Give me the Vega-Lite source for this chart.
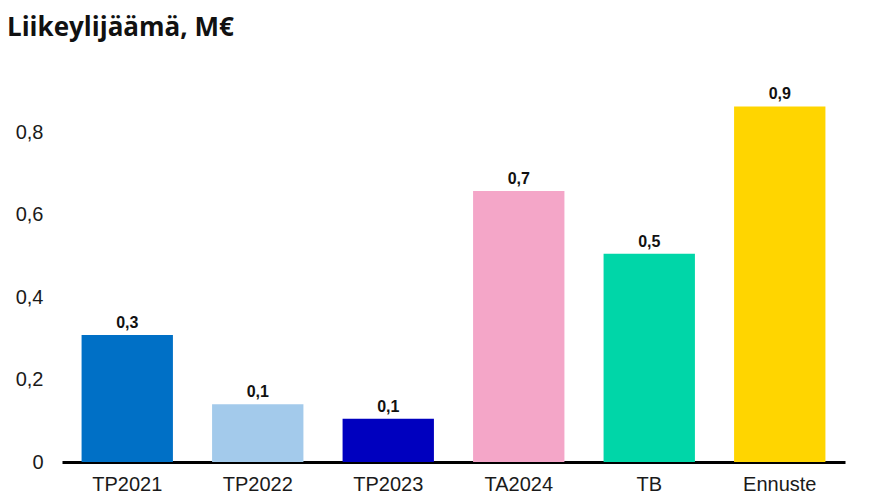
{
  "$schema": "https://vega.github.io/schema/vega-lite/v6.json",
  "autosize": {"type": "none"},
  "width": 783,
  "height": 412.5,
  "padding": {"left": 62, "top": 49.5, "right": 32, "bottom": 40},
  "background": "white",
  "config": {
    "view": {"stroke": null},
    "locale": {"number": {"decimal": ",", "thousands": " ", "grouping": [3], "currency": ["", " €"]}}
  },
  "title": {
    "text": "Liikeylijäämä, M€",
    "anchor": "start",
    "frame": "group",
    "dx": -55,
    "dy": 26,
    "offset": 14,
    "baseline": "alphabetic",
    "font": "Open Sans",
    "fontSize": 26,
    "fontWeight": "bold",
    "color": "#111111"
  },
  "data": {
    "values": [
      {"kausi": "TP2021", "arvo": 0.308},
      {"kausi": "TP2022", "arvo": 0.140},
      {"kausi": "TP2023", "arvo": 0.105},
      {"kausi": "TA2024", "arvo": 0.657},
      {"kausi": "TB", "arvo": 0.505},
      {"kausi": "Ennuste", "arvo": 0.862}
    ]
  },
  "encoding": {
    "x": {
      "field": "kausi",
      "type": "nominal",
      "sort": null,
      "scale": {"paddingInner": 0.3, "paddingOuter": 0.15},
      "axis": {
        "title": null,
        "labelAngle": 0,
        "labelFont": "Liberation Sans",
        "labelFontSize": 20,
        "labelColor": "#1a1a1a",
        "ticks": false,
        "tickSize": 0,
        "labelPadding": 12,
        "domainColor": "#000000",
        "domainWidth": 3,
        "grid": false
      }
    },
    "y": {
      "field": "arvo",
      "type": "quantitative",
      "scale": {"domain": [0, 1], "nice": false},
      "axis": {
        "title": null,
        "values": [0, 0.2, 0.4, 0.6, 0.8],
        "format": ".1~f",
        "labelFont": "Liberation Sans",
        "labelFontSize": 20,
        "labelColor": "#1a1a1a",
        "ticks": false,
        "tickSize": 0,
        "labelPadding": 19,
        "domain": false,
        "grid": false
      }
    }
  },
  "layer": [
    {
      "mark": {"type": "bar"},
      "encoding": {
        "color": {
          "field": "kausi",
          "type": "nominal",
          "scale": {
            "domain": ["TP2021", "TP2022", "TP2023", "TA2024", "TB", "Ennuste"],
            "range": ["#0070C6", "#A3CAEB", "#0000BF", "#F4A6C8", "#00D6A8", "#FFD500"]
          },
          "legend": null
        }
      }
    },
    {
      "mark": {
        "type": "text",
        "baseline": "alphabetic",
        "dy": -7,
        "font": "Liberation Sans",
        "fontSize": 16,
        "fontWeight": "bold",
        "color": "#111111"
      },
      "encoding": {
        "text": {"field": "arvo", "type": "quantitative", "format": ".1f"}
      }
    }
  ]
}
